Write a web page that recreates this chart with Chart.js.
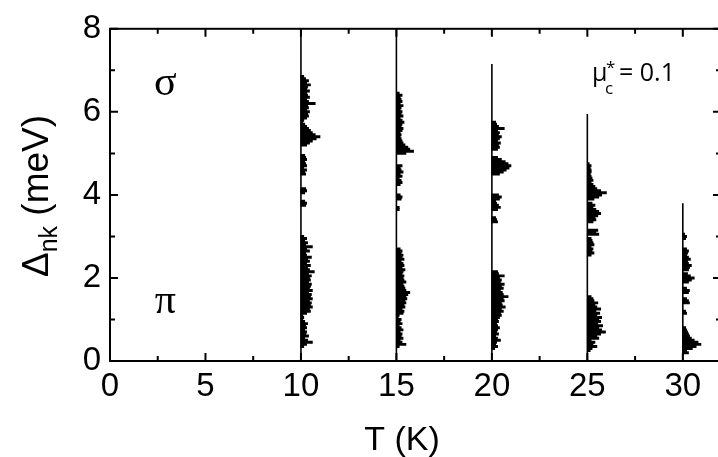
<!DOCTYPE html>
<html>
<head>
<meta charset="utf-8">
<script src="https://cdn.jsdelivr.net/npm/chart.js@4.4.1/dist/chart.umd.min.js"></script>
<style>
  html, body { margin: 0; padding: 0; background: #fff; overflow: hidden; }
  canvas { display: block; }
</style>
</head>
<body>
<canvas id="gapChart" width="726" height="457"></canvas>
<script>
// temperatures (K) and how high each gap-distribution baseline reaches (meV)
const temps = [10, 15, 20, 25, 30];
const lineTops = [8, 8, 7.15, 5.95, 3.8];

// histogram widths (in K along the T axis), one bin every 0.05 meV from binStarts
const binStep = 0.05;
const binStarts = [0.35, 0.35, 0.30, 0.25, 0.20];

const hist10 = [
  0.15, 0.3, 0.6, 0.35, 0.2, 0.4, 0.25, 0.3, 0.2,
  0.3, 0.25, 0.35, 0.2,
  0.1, 0.15, 0.1, 0.3,
  0.5, 0.45, 0.6, 0.5, 0.55, 0.45, 0.6, 0.5, 0.55, 0.4, 0.6, 0.45, 0.5, 0.55, 0.4, 0.5, 0.45,
  0.55, 0.4, 0.7, 0.45, 0.35, 0.5, 0.3, 0.45, 0.35, 0.55, 0.3,
  0.25, 0.45, 0.3, 0.6, 0.25, 0.35, 0.2, 0.3, 0.15,
  0, 0, 0, 0, 0, 0, 0, 0, 0, 0, 0, 0, 0, 0,
  0.25, 0.3, 0.2,
  0, 0, 0,
  0.2, 0.3, 0.25,
  0, 0, 0, 0, 0, 0,
  0.25, 0.2, 0.3, 0.15, 0.3, 0.25, 0.2, 0.3, 0.25, 0.2,
  0, 0, 0, 0,
  0.3, 0.45, 0.6, 0.8, 1.0, 0.75, 0.6, 0.5, 0.4, 0.3, 0.2,
  0.1, 0.15,
  0.3, 0.4, 0.35, 0.45, 0.3, 0.4, 0.35, 0.75, 0.4, 0.3, 0.45, 0.35, 0.3, 0.45, 0.3, 0.35, 0.5, 0.3, 0.4, 0.25,
  0.15
];

const hist15 = [
  0.15, 0.5, 0.3,
  0.2, 0.35, 0.25, 0.3, 0.2, 0.35, 0.25, 0.15, 0.3, 0.2, 0.25,
  0.1, 0.15,
  0.35, 0.4, 0.3, 0.45, 0.4, 0.5, 0.45, 0.55, 0.5, 0.6, 0.7, 0.5, 0.45, 0.4, 0.35, 0.5, 0.4,
  0.35, 0.4, 0.3, 0.35, 0.45, 0.3, 0.4, 0.35, 0.25, 0.4, 0.3, 0.35, 0.25, 0.3, 0.2,
  0, 0, 0, 0, 0, 0, 0, 0, 0, 0, 0, 0, 0, 0, 0, 0, 0, 0,
  0.15, 0.15,
  0, 0, 0,
  0.25, 0.3, 0.2,
  0, 0, 0, 0,
  0.2, 0.3, 0.25, 0.15, 0.3, 0.2, 0.35, 0.25, 0.2, 0.3,
  0, 0, 0, 0, 0,
  0.5, 0.9, 0.7, 0.6, 0.45, 0.35, 0.3, 0.25, 0.2,
  0.25, 0.2, 0.3, 0.35, 0.25, 0.3, 0.4, 0.3, 0.2, 0.35, 0.25, 0.3, 0.2, 0.25, 0.35, 0.2, 0.3, 0.25, 0.2, 0.3, 0.15
];

const hist20 = [
  0.15, 0.3, 0.2, 0.25,
  0.45, 0.3, 0.2, 0.35, 0.25, 0.3, 0.4, 0.3, 0.25, 0.35, 0.3,
  0.4, 0.5, 0.45, 0.6, 0.5, 0.7, 0.55, 0.5, 0.65, 0.6, 0.85, 0.6,
  0.55, 0.45, 0.6, 0.5, 0.65, 0.45, 0.5, 0.4, 0.65, 0.35, 0.3,
  0, 0, 0, 0, 0, 0, 0, 0, 0, 0, 0, 0, 0, 0, 0, 0, 0, 0, 0, 0, 0, 0, 0,
  0.3, 0.25, 0.2,
  0, 0, 0,
  0.3, 0.45, 0.35, 0.25, 0.2, 0.4, 0.5, 0.35,
  0, 0, 0, 0, 0, 0, 0, 0, 0,
  0.4, 0.6, 0.75, 0.9, 1.0, 0.85, 0.7, 0.5, 0.3,
  0, 0, 0,
  0.3, 0.4, 0.35, 0.45, 0.3, 0.4, 0.5, 0.35, 0.4, 0.3, 0.65, 0.35, 0.25, 0.2
];

const hist25 = [
  0.15, 0.25, 0.5, 0.3, 0.4, 0.2,
  0.6, 0.5, 0.7, 0.95, 0.75, 0.6, 0.8, 0.55, 0.7,
  0.6, 0.75, 0.5, 0.65, 0.45, 0.7, 0.5, 0.4, 0.55, 0.35, 0.3, 0.2,
  0, 0, 0, 0, 0, 0, 0, 0, 0, 0, 0, 0, 0, 0, 0, 0, 0, 0, 0,
  0.2, 0.35, 0.25, 0.3, 0.2, 0.35, 0.3, 0.25, 0.2,
  0, 0.6, 0.45, 0.55, 0,
  0, 0,
  0.3, 0.45, 0.4, 0.55, 0.7, 0.6, 0.45, 0.3, 0.4, 0.25,
  0,
  0.35, 0.6, 0.75, 1.0, 0.7, 0.5, 0.4, 0.3, 0.2,
  0.3, 0.25, 0.2, 0.15, 0.2,
  0.2, 0.15, 0.2, 0.1
];

const hist30 = [
  0.3, 0.2, 0.5, 0.7, 0.95, 0.8, 0.6, 0.45, 0.35, 0.3, 0.25, 0.2, 0.15,
  0, 0, 0, 0, 0, 0,
  0.2, 0.15,
  0, 0, 0,
  0.35, 0.3, 0.2,
  0, 0,
  0.3, 0.35, 0.2,
  0, 0,
  0.3, 0.45, 0.6, 0.4, 0.25,
  0,
  0.3, 0.35, 0.45, 0.3, 0.25, 0.4, 0.3, 0.2, 0.25, 0.3, 0.2,
  0, 0, 0, 0,
  0.15, 0.2, 0.1
];

const hists = [hist10, hist15, hist20, hist25, hist30];

const xTicks = [0, 5, 10, 15, 20, 25, 30];
const xMinor = [2.5, 7.5, 12.5, 17.5, 22.5, 27.5];
const yTicks = [0, 2, 4, 6, 8];
const yMinor = [1, 3, 5, 7];

function histData(T, start, widths) {
  const pts = [];
  widths.forEach((w, i) => {
    if (w > 0) pts.push({ y: +(start + i * binStep).toFixed(2), x: [T, T + w] });
  });
  return pts;
}

const datasets = [];
temps.forEach((T, k) => {
  datasets.push({
    type: "bar",
    data: histData(T, binStarts[k], hists[k]),
    backgroundColor: "#000",
    borderWidth: 0,
    barThickness: 2.3,
    grouped: false
  });
  datasets.push({
    type: "line",
    data: [{ x: T, y: 0 }, { x: T, y: lineTops[k] }],
    borderColor: "#000",
    borderWidth: 1.6,
    pointRadius: 0,
    fill: false
  });
});

const SANS = "'Liberation Sans', Arial, sans-serif";
const TICK_FONT = { family: SANS, size: 33 };

// frame, inward ticks, axis titles and labels
const decor = {
  id: "decor",
  afterDraw(chart) {
    const { ctx, chartArea: a, scales: { x, y } } = chart;
    ctx.save();
    ctx.strokeStyle = "#000";
    ctx.lineWidth = 2;
    ctx.strokeRect(a.left, a.top, a.right - a.left, a.bottom - a.top);

    const tickX = (vals, len) => vals.forEach(v => {
      const px = x.getPixelForValue(v);
      ctx.beginPath();
      ctx.moveTo(px, a.bottom); ctx.lineTo(px, a.bottom - len);
      ctx.moveTo(px, a.top); ctx.lineTo(px, a.top + len);
      ctx.stroke();
    });
    const tickY = (vals, len) => vals.forEach(v => {
      const py = y.getPixelForValue(v);
      ctx.beginPath();
      ctx.moveTo(a.left, py); ctx.lineTo(a.left + len, py);
      ctx.moveTo(a.right, py); ctx.lineTo(a.right - len, py);
      ctx.stroke();
    });
    tickX(xTicks, 8); tickX(xMinor, 5);
    tickY(yTicks, 8); tickY(yMinor, 5);

    ctx.fillStyle = "#000";
    // x title
    ctx.font = "34px " + SANS;
    ctx.textAlign = "center";
    ctx.textBaseline = "alphabetic";
    ctx.fillText("T (K)", 402, 450);

    // y title, rotated, with subscript
    ctx.save();
    ctx.translate(48, 196);
    ctx.rotate(-Math.PI / 2);
    ctx.textAlign = "left";
    const big = "37px " + SANS;
    const small = "25px " + SANS;
    ctx.font = big; const wD = ctx.measureText("\u0394").width;
    ctx.font = small; const wS = ctx.measureText("nk").width;
    ctx.font = big; const wR = ctx.measureText(" (meV)").width;
    let cx = -(wD + wS + wR) / 2;
    ctx.font = big; ctx.fillText("\u0394", cx, 0); cx += wD;
    ctx.font = small; ctx.fillText("nk", cx, 9); cx += wS;
    ctx.font = big; ctx.fillText(" (meV)", cx, 0);
    ctx.restore();

    // band labels
    ctx.font = "42px 'Liberation Serif', 'DejaVu Serif', serif";
    ctx.textAlign = "center";
    ctx.fillText("\u03c3", x.getPixelForValue(2.9), y.getPixelForValue(6.4));
    ctx.fillText("\u03c0", x.getPixelForValue(2.9), y.getPixelForValue(1.15));

    // Coulomb pseudopotential note
    ctx.textAlign = "left";
    const bx = 592, by = 81;
    ctx.font = "25px 'Open Sans', sans-serif";
    ctx.fillText("\u03bc", bx, by);
    ctx.font = "17px 'Open Sans', sans-serif";
    ctx.fillText("c", bx + 13, by + 13);
    ctx.fillText("*", bx + 14, by - 8);
    ctx.font = "25px 'Open Sans', sans-serif";
    ctx.fillText("= 0.1", bx + 27, by);
    ctx.restore();
  }
};

new Chart(document.getElementById("gapChart"), {
  type: "bar",
  data: { datasets },
  plugins: [decor],
  options: {
    indexAxis: "y",
    responsive: false,
    animation: false,
    layout: { padding: { top: 24, right: 5, left: 0, bottom: 0 } },
    plugins: { legend: { display: false }, tooltip: { enabled: false } },
    scales: {
      x: {
        type: "linear",
        min: 0, max: 32,
        grid: { display: false, drawTicks: false },
        border: { display: false },
        afterBuildTicks: s => { s.ticks = xTicks.map(v => ({ value: v })); },
        afterFit: s => { s.height = 96; },
        ticks: { color: "#000", font: TICK_FONT, padding: 6, maxRotation: 0 }
      },
      y: {
        type: "linear",
        min: 0, max: 8,
        offset: false,
        grid: { display: false, drawTicks: false },
        border: { display: false },
        afterBuildTicks: s => { s.ticks = yTicks.map(v => ({ value: v })); },
        afterFit: s => { s.width = 110; },
        ticks: { color: "#000", font: TICK_FONT, padding: 9 }
      }
    }
  }
});
</script>
</body>
</html>
